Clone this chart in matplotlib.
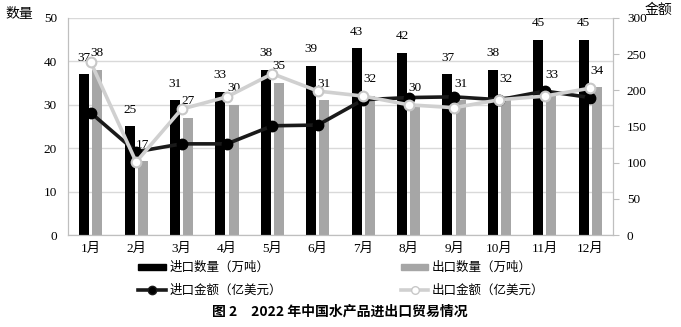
import numpy as np
import matplotlib.pyplot as plt
from matplotlib.patches import Patch
from matplotlib.lines import Line2D

plt.rcParams['font.family'] = ['Noto Sans CJK SC', 'DejaVu Sans']

months = ['1月', '2月', '3月', '4月', '5月', '6月', '7月', '8月', '9月', '10月', '11月', '12月']
import_qty = [37, 25, 31, 33, 38, 39, 43, 42, 37, 38, 45, 45]     # 万吨
export_qty = [38, 17, 27, 30, 35, 31, 32, 30, 31, 32, 33, 34]     # 万吨
import_val = [169, 115, 126, 126, 151, 152, 187, 190, 191, 187, 199, 190]  # 亿美元
export_val = [239, 101, 174, 191, 223, 199, 192, 180, 176, 187, 192, 203]  # 亿美元

num_font = ['Liberation Serif', 'Noto Sans CJK SC']
grid_c = '#d9d9d9'
spine_c = '#bfbfbf'

fig = plt.figure(figsize=(6.81, 3.27), dpi=100)
ax = fig.add_axes([68 / 681, 1 - 235 / 327, 545 / 681, 217 / 327])
ax2 = ax.twinx()

x = np.arange(len(months))
w = 0.22
off = 0.145

b1 = ax.bar(x - off, import_qty, w, color='black', zorder=2)
b2 = ax.bar(x + off, export_qty, w, color='#a6a6a6', zorder=2)

for xi, v in zip(x - off, import_qty):
    ax.annotate(str(v), (xi, v), xytext=(0, 12), textcoords='offset points',
                ha='center', va='center', fontsize=9.5, family=num_font)
for xi, v in zip(x + off, export_qty):
    ax.annotate(str(v), (xi, v), xytext=(0, 12), textcoords='offset points',
                ha='center', va='center', fontsize=9.5, family=num_font)

ax.set_ylim(0, 50)
ax.set_xlim(-0.5, 11.5)
ax.set_yticks(range(0, 51, 10))
ax.yaxis.grid(True, color=grid_c, linewidth=1)
ax.set_axisbelow(True)
ax.set_xticks(x)
ax.set_xticklabels(months, family=num_font, fontsize=9.5)
ax.tick_params(axis='x', length=0, pad=6)
ax.tick_params(axis='y', length=0, pad=8)
for lbl in ax.get_yticklabels():
    lbl.set_family(num_font)
    lbl.set_fontsize(9.5)

# value lines on the right axis
ax2.plot(x, import_val, color='#1a1a1a', linewidth=2.6, marker='o', markersize=7.5,
         markerfacecolor='black', markeredgecolor='black', zorder=3)
ax2.plot(x, export_val, color='#d0d0d0', linewidth=2.6, marker='o', markersize=7,
         markerfacecolor='white', markeredgecolor='#c8c8c8', markeredgewidth=1.5, zorder=4)
ax2.set_ylim(0, 300)
ax2.set_yticks(range(0, 301, 50))
ax2.tick_params(axis='y', length=4, color=spine_c, pad=6)
for lbl in ax2.get_yticklabels():
    lbl.set_family(num_font)
    lbl.set_fontsize(9.5)

for a in (ax, ax2):
    a.spines['top'].set_visible(False)
    for s in ('left', 'right', 'bottom'):
        a.spines[s].set_color(spine_c)
ax.patch.set_visible(False)
ax2.set_zorder(ax.get_zorder() + 1)

fig.text(5 / 681, 1 - 14 / 327, '数量', fontsize=10, va='center', ha='left')
fig.text(645 / 681, 1 - 10 / 327, '金额', fontsize=10, va='center', ha='left')

handles = [
    Patch(color='black'),
    Line2D([], [], color='#1a1a1a', linewidth=2.6, marker='o', markersize=6,
           markerfacecolor='black'),
    Patch(color='#a6a6a6'),
    Line2D([], [], color='#d0d0d0', linewidth=2.6, marker='o', markersize=5.5,
           markerfacecolor='white', markeredgecolor='#c8c8c8'),
]
labels = ['进口数量（万吨）', '进口金额（亿美元）', '出口数量（万吨）', '出口金额（亿美元）']
fig.legend(handles, labels, ncol=2, loc='upper left', bbox_to_anchor=(132 / 681, 1 - 255 / 327),
           frameon=False, fontsize=9, handlelength=2.2, handleheight=0.4,
           handletextpad=0.3, columnspacing=9.5, labelspacing=0.75, borderpad=0)

fig.text(340 / 681, 1 - 312 / 327, '图 2　2022 年中国水产品进出口贸易情况',
         fontsize=10, fontweight='bold', ha='center', va='center')

fig.savefig('out.png', dpi=100)
